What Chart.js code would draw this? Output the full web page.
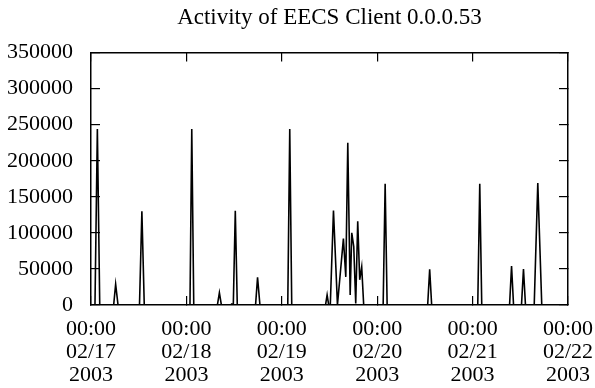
<!DOCTYPE html>
<html>
<head>
<meta charset="utf-8">
<script src="https://cdn.jsdelivr.net/npm/chart.js@4"></script>
<style>
  html, body { margin: 0; padding: 0; background: #fff; }
  #wrap { width: 595px; height: 388px; }
</style>
</head>
<body>
<div id="wrap"><canvas id="activityChart" width="595" height="388"></canvas></div>
<script>
// hours since 02/17/2003 00:00
const hours = [
  0, 1.0, 1.6, 2.2, 5.7, 6.2, 6.8, 12.2, 12.8, 13.4,
  24.9, 25.35, 25.85, 31.8, 32.3, 32.8, 35.1, 35.4, 35.8, 36.3, 36.8,
  41.4, 41.9, 42.5, 49.5, 50.0, 50.5,
  59.0, 59.4, 59.8, 60.2, 61.0, 62.0, 63.5, 64.1, 64.6, 65.2, 65.6,
  66.1, 66.6, 67.1, 67.6, 68.1, 68.6,
  73.5, 74.0, 74.5, 84.7, 85.2, 85.7, 97.3, 97.8, 98.3,
  105.3, 105.8, 106.3, 108.3, 108.8, 109.3, 111.5, 112.4, 113.4, 120
];
const activity = [
  0, 0, 244000, 0, 0, 29000, 0, 0, 130000, 0,
  0, 244000, 0, 0, 17000, 0, 0, 1500, 0, 130500, 0,
  0, 38500, 0, 0, 244000, 0,
  0, 14000, 0, 0, 131000, 0, 92000, 39000, 225000, 14000, 100000,
  81000, 2000, 116000, 35000, 53000, 0,
  0, 168000, 0, 0, 49600, 0, 0, 168000, 0,
  0, 54000, 0, 0, 50000, 0, 0, 169000, 0, 0
];

const yTicks = [0, 50000, 100000, 150000, 200000, 250000, 300000, 350000];
const dayTicks = [0, 24, 48, 72, 96, 120];
const timeLabels = ['00:00', '00:00', '00:00', '00:00', '00:00', '00:00'];
const dateLabels = ['02/17', '02/18', '02/19', '02/20', '02/21', '02/22'];
const yearLabels = ['2003', '2003', '2003', '2003', '2003', '2003'];

const serif = "'Liberation Serif', 'DejaVu Serif', serif";
const tickIn = -9;

function setY(s) { s.ticks = yTicks.map(v => ({ value: v })); }
function setX(s) { s.ticks = dayTicks.map(v => ({ value: v })); }

const frame = { display: true, color: '#000', width: 1.5 };
const marks = { drawOnChartArea: false, color: '#000', lineWidth: 1.2, tickLength: tickIn };

new Chart(document.getElementById('activityChart'), {
  type: 'line',
  data: {
    datasets: [{
      data: hours.map((h, i) => ({ x: h, y: activity[i] })),
      borderColor: '#000',
      borderWidth: 1.6,
      pointRadius: 0,
      fill: false,
      tension: 0
    }]
  },
  options: {
    responsive: false,
    animation: false,
    devicePixelRatio: 1,
    layout: { padding: { right: 27 } },
    plugins: {
      legend: { display: false },
      tooltip: { enabled: false },
      title: {
        display: true,
        text: 'Activity of EECS Client 0.0.0.53',
        color: '#000',
        fullSize: false,
        font: { family: serif, size: 23, weight: 'normal' },
        padding: { top: 4, bottom: 21 }
      }
    },
    scales: {
      x: {
        type: 'linear',
        position: 'bottom',
        min: 0,
        max: 120,
        afterBuildTicks: setX,
        afterFit: s => { s.height = 83; s.paddingLeft = 0; s.paddingRight = 0; },
        grid: marks,
        border: frame,
        ticks: {
          autoSkip: false,
          maxRotation: 0,
          color: '#000',
          padding: 22,
          font: { family: serif, size: 22, lineHeight: 1.045 },
          callback: v => {
            const i = dayTicks.indexOf(v);
            return [timeLabels[i], dateLabels[i], yearLabels[i]];
          }
        }
      },
      xTop: {
        type: 'linear',
        position: 'top',
        min: 0,
        max: 120,
        afterBuildTicks: setX,
        afterFit: s => { s.height = 0; s.paddingLeft = 0; s.paddingRight = 0; },
        grid: marks,
        border: frame,
        ticks: { display: false }
      },
      y: {
        position: 'left',
        min: 0,
        max: 350000,
        afterBuildTicks: setY,
        afterFit: s => { s.width = 91; s.paddingTop = 0; s.paddingBottom = 0; },
        grid: marks,
        border: frame,
        ticks: {
          color: '#000',
          padding: 27,
          font: { family: serif, size: 22 },
          callback: v => String(v)
        }
      },
      yRight: {
        position: 'right',
        min: 0,
        max: 350000,
        afterBuildTicks: setY,
        afterFit: s => { s.width = 0; s.paddingTop = 0; s.paddingBottom = 0; },
        grid: marks,
        border: frame,
        ticks: { display: false }
      }
    }
  }
});
</script>
</body>
</html>
